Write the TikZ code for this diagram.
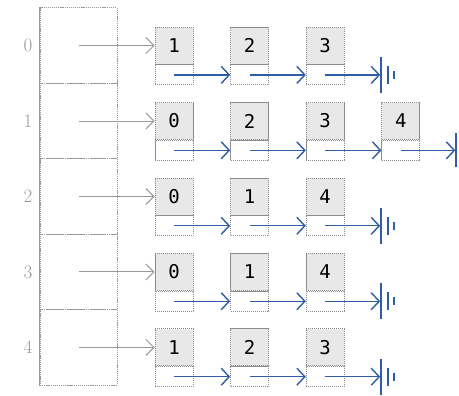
\documentclass[tikz,border=0pt]{standalone}
\usepackage{fontspec}
\newfontfamily\keyfont{DejaVu Sans Mono}
\usetikzlibrary{arrows.meta}
\definecolor{linkblue}{HTML}{2F5DA8}
\definecolor{boxedge}{HTML}{8C8C8C}
\definecolor{keyfill}{HTML}{E8E8E8}
\definecolor{arrgray}{HTML}{9A9A9A}
\begin{document}
\begin{tikzpicture}[x=1pt,y=-1pt,
  cellbox/.style={draw=arrgray, dash pattern=on 1.2pt off 0.9pt, line width=0.8pt,
    minimum width=77pt, minimum height=75.45pt, inner sep=0pt},
  idx/.style={text=gray!80, font=\fontsize{19}{19}\selectfont},
  keybox/.style={draw=boxedge, dash pattern=on 1.2pt off 0.8pt, line width=0.8pt,
    fill=keyfill, minimum width=38pt, minimum height=37pt, inner sep=0pt,
    font=\keyfont\fontsize{19}{19}\selectfont},
  ptrbox/.style={draw=boxedge, dash pattern=on 1.2pt off 0.8pt, line width=0.8pt,
    fill=white, minimum width=38pt, minimum height=20pt, inner sep=0pt},
  headptr/.style={draw=arrgray, line width=1pt,
    -{Straight Barb[length=8pt,width=16pt,line width=1pt]}},
  link/.style={draw=linkblue, line width=1.4pt,
    -{Straight Barb[length=8pt,width=17pt,line width=1.4pt]}},
  nilbar/.style={draw=linkblue, line width=1.6pt}]

\useasboundingbox[fill=white] (0,0) rectangle (459,396);

% adjacency array: one cell and one index label per vertex, each pointing to its list
\foreach \i/\lst/\n in {0/{1,2,3}/3, 1/{0,2,3,4}/4, 2/{0,1,4}/3, 3/{0,1,4}/3, 4/{1,2,3}/3} {
  \node[cellbox] (a\i) at (78.5, 45.6+75.45*\i) {};
  \node[idx] (l\i) at (28, 45.6+75.45*\i) {\i};
  \foreach \k [count=\j from 0] in \lst {
    \node[keybox] (k\i-\j) at (174+75.6*\j, 45.6+75.45*\i) {\k};
    \node[ptrbox, anchor=north] (p\i-\j) at (k\i-\j.south) {};
  }
  \draw[headptr] (a\i.center) -- (a\i.center -| k\i-0.west);
  \pgfmathtruncatemacro\last{\n-1}
  \foreach \j in {1,...,\last} {
    \pgfmathtruncatemacro\pj{\j-1}
    \draw[link] (p\i-\pj.center) -- (p\i-\j.west);
  }
}
% solid outer edge of the array
\draw[arrgray, line width=1pt] (a0.north west) -- (a4.south west);

% null terminators
\foreach \i in {0,2,3,4} {
  \coordinate (z\i) at ([xshift=56pt]p\i-2.center);
  \draw[link, shorten >=1pt] (p\i-2.center) -- (z\i);
  \draw[nilbar] ([yshift=18pt]z\i) -- ([yshift=-18pt]z\i);
  \draw[nilbar] ([xshift=7pt,yshift=9pt]z\i) -- ([xshift=7pt,yshift=-9pt]z\i);
  \draw[nilbar] ([xshift=13pt,yshift=4pt]z\i) -- ([xshift=13pt,yshift=-4pt]z\i);
}
\coordinate (z1) at ([xshift=55pt]p1-3.center);
\draw[link, shorten >=0.5pt] (p1-3.center) -- (z1);
\draw[nilbar] ([yshift=17pt]z1) -- ([yshift=-17pt]z1);
\end{tikzpicture}
\end{document}
